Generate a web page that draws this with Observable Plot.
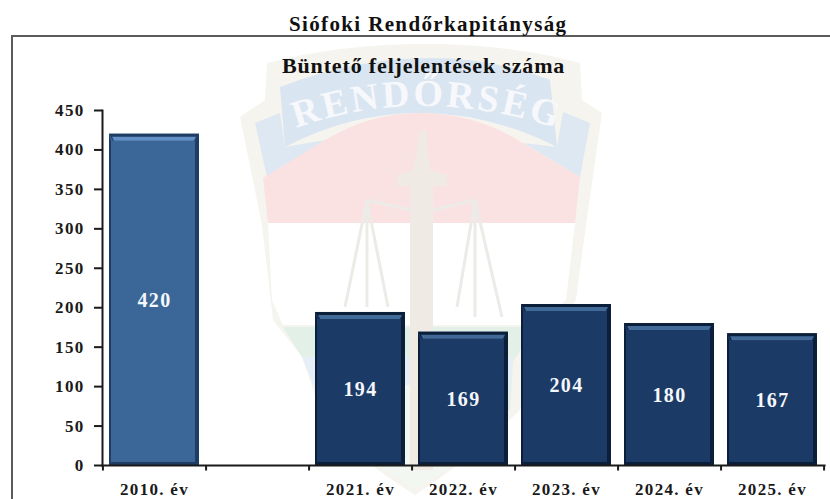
<!DOCTYPE html>
<html><head><meta charset="utf-8">
<style>
html,body{margin:0;padding:0;background:#fff;width:830px;height:499px;overflow:hidden}
#wrap{position:relative;width:830px;height:499px;overflow:hidden;font-family:"Liberation Serif",serif;font-weight:bold;color:#111}
#frame{position:absolute;left:11px;top:35px;width:900px;height:600px;border:2px solid #5c5c5c}
#bg{position:absolute;left:0;top:0}
#chart{position:absolute;left:0;top:0}
.t{position:absolute;white-space:nowrap;line-height:24px}
#title{left:289px;top:12px;font-size:21px;letter-spacing:1.36px}
#sub{left:282px;top:54px;font-size:22px;letter-spacing:.85px}
</style></head><body>
<div id="wrap">
<svg id="bg" width="830" height="499" viewBox="0 0 830 499" aria-hidden="true">
  <path d="M267 63 Q340 44 425 44 Q510 44 580 63 L582 100 L602 113 L586 225 L576 300 L545 345 L520 410 Q470 460 415 495 Q360 460 325 425 L302 357 L273 320 L262 225 L240 117 L265 100 Z" fill="#f6f4ee"/>
  <path d="M255 123 L280 113 L285 147 L325 140 L267 177 Z" fill="#dde8f3"/>
  <path d="M590 123 L563 112 L557 147 L523 143 L580 177 Z" fill="#dde8f3"/>
  <path d="M280 87 Q355 58 430 58 Q495 58 550 80 L557 147 Q490 113 420 113 Q350 113 285 147 Z" fill="#dae5f2"/>
  <path d="M263 178 L325 140 Q370 113 420 113 Q475 113 523 143 L580 177 L575 223 L268 223 Z" fill="#fbe2e2"/>
  <path d="M268 223 L575 223 L566 300 L535 325 L283 325 L272 300 Z" fill="#ffffff"/>
  <path d="M283 327 L535 327 L513 362 L510 410 L325 410 L302 357 Z" fill="#e2f0e8"/>
  <path d="M302 357 L513 358 L508 405 L322 405 Z" fill="#e6eff8"/>
  <path d="M340 385 L500 385 L495 440 L415 490 L345 440 Z" fill="#f2f7f2"/>
  <path d="M420 130 L426 130 L430 170 L447 175 L447 186 L433 186 L433 470 L410 470 L410 186 L397 186 L397 175 L413 170 Z" fill="#efeae4"/>
  <path d="M345 307 L367 200 L388 307 M367 200 V307 M457 307 L475 200 L502 317 M475 200 V317 M367 200 L410 210 M475 200 L433 210" stroke="#ecebe7" stroke-width="3" fill="none"/>
  <path id="arc" d="M296 128 Q420 84 556 128" fill="none"/>
  <text font-family="Liberation Serif,serif" font-size="38" fill="#f6f8fb" letter-spacing="3"><textPath href="#arc">RENDŐRSÉG</textPath></text>
</svg>
<div id="frame"></div>
<div id="chart"></div>
<div class="t" id="title">Siófoki Rendőrkapitányság</div>
<div class="t" id="sub">Büntető feljelentések száma</div>
</div>
<script src="https://cdn.jsdelivr.net/npm/d3@7"></script>
<script src="https://cdn.jsdelivr.net/npm/@observablehq/plot@0.6"></script>
<script>
const categories = ["2010. év", "", "2021. év", "2022. év", "2023. év", "2024. év", "2025. év"];
const years = ["2010. év", "2021. év", "2022. év", "2023. év", "2024. év", "2025. év"];
const counts = [420, 194, 169, 204, 180, 167];
const mainColors = ["#3b6798", "#1b3a66", "#1b3a66", "#1b3a66", "#1b3a66", "#1b3a66"];
const topColors = ["#6390c6", "#426a99", "#426a99", "#426a99", "#426a99", "#426a99"];
const sideColors = ["#1f3c62", "#0c1f3a", "#0c1f3a", "#0c1f3a", "#0c1f3a", "#0c1f3a"];
const bars = years.map((year, i) => ({year, count: counts[i], main: mainColors[i], top: topColors[i], side: sideColors[i]}));

const ink = "#1a1a1a";
const NS = "http://www.w3.org/2000/svg";
function bevel(index, scales, values, dims, ctx, next) {
  const g = next(index, scales, values, dims, ctx);
  g.querySelectorAll("rect").forEach((r, k) => {
    const x = +r.getAttribute("x"), y = +r.getAttribute("y"), w = +r.getAttribute("width"), h = +r.getAttribute("height");
    const d = bars[index[k]], b = 4, t = 7;
    const add = (pts, fill) => {
      const p = document.createElementNS(NS, "polygon");
      p.setAttribute("points", pts.map(q => q.join(",")).join(" "));
      p.setAttribute("fill", fill);
      g.appendChild(p);
    };
    add([[x, y], [x + w, y], [x + w - b, y + t], [x + b, y + t]], d.side);
    add([[x + 3, y + 3], [x + w - 3, y + 3], [x + w - b - 1, y + t], [x + b + 1, y + t]], d.top);
    add([[x + w, y], [x + w, y + h], [x + w - b, y + h - 3], [x + w - b, y + t]], d.side);
    add([[x, y], [x, y + h], [x + 2, y + h - 3], [x + 2, y + t]], d.side);
    add([[x, y + h], [x + w, y + h], [x + w - b, y + h - 3], [x + 2, y + h - 3]], d.side);
  });
  return g;
}

const step = (830 - 6 - 102) / categories.length;
const chart = Plot.plot({
  width: 830, height: 499,
  marginLeft: 102, marginRight: 6, marginTop: 110, marginBottom: 34,
  style: {background: "transparent", fontFamily: "'Liberation Serif', serif", fontWeight: "bold", fontSize: "17px", letterSpacing: "1.3px", color: ink},
  x: {domain: categories, paddingInner: 0.125, paddingOuter: 0.0625, label: null},
  y: {domain: [0, 450], label: null},
  marks: [
    Plot.barY(bars, {x: "year", y: "count", fill: "main", render: bevel}),
    Plot.text(bars, {x: "year", y: d => d.count / 2, text: d => String(d.count), fill: "#f4f7fb", dy: 1, fontSize: 20, style: {letterSpacing: "0"}}),
    Plot.frame({anchor: "left", stroke: ink, strokeWidth: 2}),
    Plot.frame({anchor: "bottom", stroke: ink, strokeWidth: 2}),
    Plot.ruleX(categories, {x: d => d, y1: 0, y2: -7, dx: step / 2, stroke: ink, strokeWidth: 2}),
    Plot.ruleX(categories.slice(0, 1), {x: d => d, y1: 0, y2: -7, dx: -step / 2, stroke: ink, strokeWidth: 2}),
    Plot.axisY({ticks: d3.range(0, 451, 50), tickSize: 8, tickPadding: 10, strokeWidth: 2, stroke: ink, fill: ink}),
    Plot.axisX({ticks: years, tickSize: 0, tickPadding: 17, fill: ink, tickFormat: d => d})
  ]
});
document.getElementById("chart").appendChild(chart);
</script>
</body></html>
